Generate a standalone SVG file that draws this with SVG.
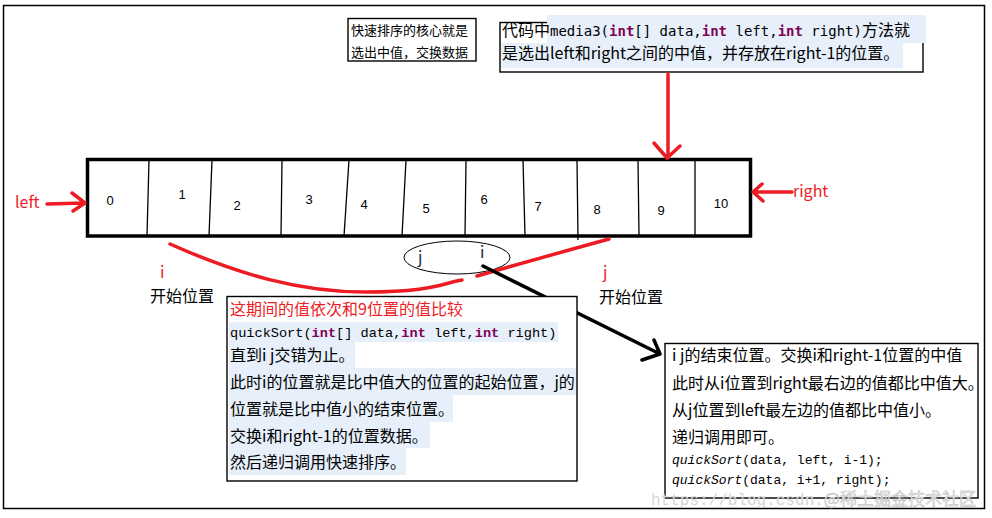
<svg xmlns="http://www.w3.org/2000/svg" width="992" height="518" viewBox="0 0 992 518">
<style>
.cjk{font-family:'Noto Sans CJK SC','Noto Sans',sans-serif;font-size:16px;fill:#000}
.red{fill:#ed1c24}
.num{font-family:'Liberation Sans',Arial,sans-serif;font-size:13px;fill:#000;text-anchor:middle}
.mono{font-family:'Liberation Mono','Courier New',monospace;fill:#000}
.smono{font-family:'DejaVu Sans Mono',monospace;font-size:14px;fill:#000}
.kw{font-weight:bold;fill:#7f0055}
.box{fill:#fff;stroke:#000;stroke-width:1.4}
.hl{fill:#e6effa}
.div{stroke:#000;stroke-width:1.3}
.ra{fill:none;stroke:#ed1c24;stroke-width:3.5;stroke-linecap:round;stroke-linejoin:round}
.ba{fill:none;stroke:#000;stroke-width:3.5;stroke-linecap:round;stroke-linejoin:round}
</style>
<rect width="992" height="518" fill="#fff"/>
<rect id="frame" x="3.5" y="5.5" width="981" height="503" fill="none" stroke="#000" stroke-width="1.5"/>

<g id="note-core">
<rect class="box" x="348" y="18.5" width="128" height="42.5"/>
<text class="cjk" x="351" y="34.5" style="font-size:13px">快速排序的核心就是</text>
<text class="cjk" x="351" y="57" style="font-size:13px">选出中值，交换数据</text>
</g>

<g id="note-media">
<rect class="box" x="500" y="22.5" width="423" height="49.5"/>
<rect class="hl" x="547" y="15" width="379" height="28"/>
<rect class="hl" x="501" y="43" width="402" height="25.5"/>
<text class="cjk" x="502" y="36">代码中<tspan class="smono">media3(<tspan class="kw">int</tspan>[] data,<tspan class="kw">int</tspan> left,<tspan class="kw">int</tspan> right)</tspan>方法就</text>
<text class="cjk" x="502" y="59">是选出left和right之间的中值，并存放在right-1的位置。</text>
</g>

<g id="array">
<rect x="87.5" y="159.5" width="663" height="76.5" fill="#fff" stroke="#000" stroke-width="3.5"/>
<line class="div" x1="149" y1="160" x2="147" y2="236"/>
<line class="div" x1="212" y1="160" x2="209" y2="236"/>
<line class="div" x1="282" y1="160" x2="281" y2="236"/>
<line class="div" x1="349" y1="160" x2="344" y2="236"/>
<line class="div" x1="406" y1="160" x2="402" y2="236"/>
<line class="div" x1="466" y1="160" x2="465" y2="236"/>
<line class="div" x1="523" y1="160" x2="525" y2="236"/>
<line class="div" x1="577" y1="160" x2="578" y2="240"/>
<line class="div" x1="638" y1="160" x2="639" y2="236"/>
<line class="div" x1="695" y1="160" x2="695" y2="236"/>
<text class="num" x="110" y="205">0</text>
<text class="num" x="182" y="199">1</text>
<text class="num" x="237" y="210">2</text>
<text class="num" x="309" y="204">3</text>
<text class="num" x="364" y="209">4</text>
<text class="num" x="426" y="213">5</text>
<text class="num" x="484" y="204">6</text>
<text class="num" x="538" y="211">7</text>
<text class="num" x="597" y="214">8</text>
<text class="num" x="661" y="215">9</text>
<text class="num" x="721" y="208">10</text>
</g>

<g id="label-left"><text class="cjk red" x="15" y="208">left</text></g>
<g id="label-right"><text class="cjk red" x="793" y="197">right</text></g>

<g id="i-start">
<text class="cjk red" x="160" y="278">i</text>
<text class="cjk" x="150" y="302">开始位置</text>
</g>
<g id="j-start">
<text class="cjk red" x="603" y="278">j</text>
<text class="cjk" x="599" y="303">开始位置</text>
</g>

<g id="ij-end">
<ellipse cx="457" cy="257.5" rx="53" ry="16.5" fill="none" stroke="#000" stroke-width="1"/>
<text class="cjk" x="418" y="263" style="fill:#1c2a48">j</text>
<text class="cjk" x="480" y="258" style="fill:#1c2a48">i</text>
</g>

<g id="connectors">
<path class="ra" d="M47,204 L85,203 M72,193 L85,203 L73,211"/>
<path class="ra" d="M792,192 L753,192 M762,184 L753,192 L763,201"/>
<path class="ra" d="M668,74 L668,158 M654,143 L667,158 L680,146"/>
<path class="ra" d="M170,244 C240,275 300,292 365,292 S440,284 462,280"/>
<path class="ra" d="M477,276 Q540,258 609,239"/>
<path class="ba" d="M483,266 L660,354 M654,340 L660,354 L642,360"/>
</g>

<g id="box-loop">
<rect class="box" x="227" y="296.5" width="350" height="184.5"/>
<rect class="hl" x="229" y="322" width="329" height="20"/>
<rect class="hl" x="229" y="342" width="126" height="26"/>
<rect class="hl" x="229" y="368" width="347" height="27"/>
<rect class="hl" x="229" y="395" width="224" height="27"/>
<rect class="hl" x="229" y="422" width="201" height="26"/>
<rect class="hl" x="229" y="448" width="177" height="27"/>
<text class="cjk red" x="230" y="315">这期间的值依次和9位置的值比较</text>
<text class="mono" x="230" y="337" style="font-size:13.6px">quickSort(<tspan class="kw">int</tspan>[] data,<tspan class="kw">int</tspan> left,<tspan class="kw">int</tspan> right)</text>
<text class="cjk" x="230" y="361">直到i j交错为止。</text>
<text class="cjk" x="230" y="388">此时i的位置就是比中值大的位置的起始位置，j的</text>
<text class="cjk" x="230" y="415">位置就是比中值小的结束位置。</text>
<text class="cjk" x="230" y="442">交换i和right-1的位置数据。</text>
<text class="cjk" x="230" y="468">然后递归调用快速排序。</text>
</g>

<g id="box-end">
<rect class="box" x="665" y="343.5" width="313" height="154.5"/>
<text class="cjk" x="672" y="361">i j的结束位置。交换i和right-1位置的中值</text>
<text class="cjk" x="672" y="389">此时从i位置到right最右边的值都比中值大。</text>
<text class="cjk" x="672" y="416">从j位置到left最左边的值都比中值小。</text>
<text class="cjk" x="672" y="443">递归调用即可。</text>
<text class="mono" x="672" y="464" style="font-size:13px"><tspan font-style="italic">quickSort</tspan>(data, left, i-1);</text>
<text class="mono" x="672" y="484" style="font-size:13px"><tspan font-style="italic">quickSort</tspan>(data, i+1, right);</text>
</g>

<g id="watermark">
<text class="mono" x="651" y="505" style="font-size:16px;fill:#d6d6d6">https://blog.csdn.<tspan style="font-family:'Noto Sans CJK SC',sans-serif;font-size:17px;fill:#ececec;stroke:#b4b4b4;stroke-width:0.4">@稀土掘金技术社区</tspan></text>
</g>
</svg>
